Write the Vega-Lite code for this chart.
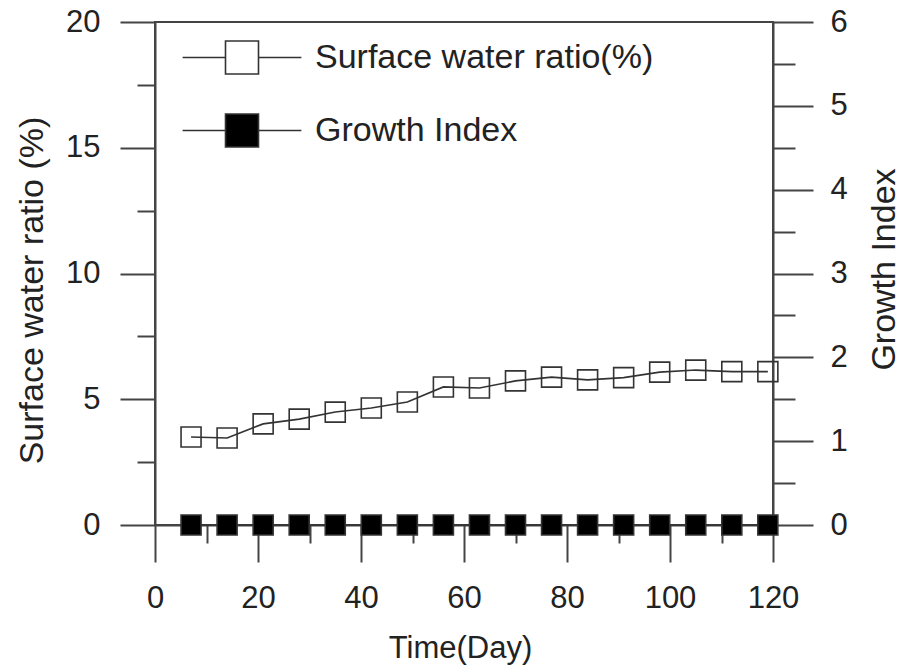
{
  "$schema": "https://vega.github.io/schema/vega-lite/v6.json",
  "width": 618,
  "height": 503,
  "autosize": {"type": "none"},
  "padding": {"left": 155, "top": 22, "right": 127, "bottom": 141},
  "background": "white",
  "config": {
    "view": {"stroke": "#444", "strokeWidth": 2},
    "font": "Liberation Sans",
    "axis": {
      "labelFont": "Liberation Sans", "labelFontSize": 31, "labelColor": "#222", "labelFlush": false,
      "titleFont": "Liberation Sans", "titleFontSize": 33, "titleFontWeight": "normal", "titleColor": "#222",
      "domainColor": "#444", "domainWidth": 2, "tickColor": "#444", "tickWidth": 2, "grid": false
    }
  },
  "data": {
    "values": [
      {"day": 7, "surface": 3.50, "growth": 0},
      {"day": 14, "surface": 3.46, "growth": 0},
      {"day": 21, "surface": 4.02, "growth": 0},
      {"day": 28, "surface": 4.21, "growth": 0},
      {"day": 35, "surface": 4.49, "growth": 0},
      {"day": 42, "surface": 4.65, "growth": 0},
      {"day": 49, "surface": 4.89, "growth": 0},
      {"day": 56, "surface": 5.49, "growth": 0},
      {"day": 63, "surface": 5.45, "growth": 0},
      {"day": 70, "surface": 5.73, "growth": 0},
      {"day": 77, "surface": 5.88, "growth": 0},
      {"day": 84, "surface": 5.77, "growth": 0},
      {"day": 91, "surface": 5.86, "growth": 0},
      {"day": 98, "surface": 6.08, "growth": 0},
      {"day": 105, "surface": 6.16, "growth": 0},
      {"day": 112, "surface": 6.10, "growth": 0},
      {"day": 119, "surface": 6.10, "growth": 0}
    ]
  },
  "resolve": {"scale": {"y": "independent"}, "axis": {"x": "independent", "y": "independent"}},
  "layer": [
    {
      "mark": {"type": "line", "color": "#333", "strokeWidth": 1.6},
      "encoding": {
        "x": {
          "field": "day", "type": "quantitative",
          "scale": {"domain": [0, 120], "nice": false},
          "axis": {
            "orient": "bottom", "values": [0, 20, 40, 60, 80, 100, 120], "tickSize": 37, "labelPadding": 21,
            "title": "Time(Day)", "titleFontSize": 31, "titleX": 305, "titleY": 132, "titleBaseline": "alphabetic", "titleAlign": "center"
          }
        },
        "y": {
          "field": "surface", "type": "quantitative",
          "scale": {"domain": [0, 20], "nice": false},
          "axis": {
            "orient": "left", "values": [0, 5, 10, 15, 20], "tickSize": 35, "labelPadding": 20,
            "title": "Surface water ratio (%)", "titleFontSize": 34, "titleX": -113, "titleY": 268, "titleAngle": 270,
            "titleBaseline": "alphabetic", "titleAlign": "center"
          }
        }
      }
    },
    {
      "mark": {"type": "point", "shape": "square", "filled": true, "size": 400, "stroke": "#333", "strokeWidth": 1.6, "opacity": 1},
      "encoding": {
        "x": {"field": "day", "type": "quantitative", "axis": null},
        "y": {"field": "surface", "type": "quantitative", "scale": {"domain": [0, 20], "nice": false}, "axis": null},
        "fill": {
          "datum": "Surface water ratio(%)", "type": "nominal",
          "scale": {"domain": ["Surface water ratio(%)", "Growth Index"], "range": ["transparent", "black"]},
          "legend": {
            "orient": "none", "legendX": 69.5, "legendY": 18, "title": null, "padding": 0,
            "symbolSize": 1089, "labelOffset": 55.5, "labelFontSize": 34, "labelFont": "Liberation Sans",
            "labelColor": "#222", "labelLimit": 0, "rowPadding": 32,
            "symbolStrokeWidth": 1.6, "symbolStrokeColor": "#333",
            "symbolType": "M-3.6,0H-1M1,0H3.6M-1,-1H1V1H-1Z",
            "encode": {
              "symbols": {
                "update": {
                  "shape": {"value": "M-3.6,0H-1M1,0H3.6M-1,-1H1V1H-1Z"},
                  "size": {"value": 1089},
                  "stroke": {"value": "#333"},
                  "strokeWidth": {"value": 1.6},
                  "opacity": {"value": 1}
                }
              }
            }
          }
        }
      }
    },
    {
      "mark": {"type": "line", "color": "#333", "strokeWidth": 1.6},
      "encoding": {
        "x": {"field": "day", "type": "quantitative", "axis": null},
        "y": {
          "field": "growth", "type": "quantitative",
          "scale": {"domain": [0, 6], "nice": false},
          "axis": {
            "orient": "right", "values": [0, 1, 2, 3, 4, 5, 6], "tickSize": 40, "labelPadding": 17,
            "title": "Growth Index", "titleFontSize": 34, "titleX": 121, "titleY": 247, "titleAngle": 270,
            "titleBaseline": "alphabetic", "titleAlign": "center"
          }
        }
      }
    },
    {
      "mark": {"type": "point", "shape": "square", "filled": true, "size": 400, "stroke": "#333", "strokeWidth": 1.6, "opacity": 1},
      "encoding": {
        "x": {"field": "day", "type": "quantitative", "axis": null},
        "y": {"field": "growth", "type": "quantitative", "scale": {"domain": [0, 6], "nice": false}, "axis": null},
        "fill": {"datum": "Growth Index", "type": "nominal"}
      }
    },
    {
      "mark": {"type": "point", "opacity": 0},
      "encoding": {
        "x": {
          "field": "day", "type": "quantitative",
          "axis": {"orient": "bottom", "values": [10, 30, 50, 70, 90, 110], "tickSize": 18, "labels": false, "domain": false, "title": null}
        },
        "y": {
          "field": "surface", "type": "quantitative", "scale": {"domain": [0, 20], "nice": false},
          "axis": {"orient": "left", "values": [2.5, 7.5, 12.5, 17.5], "tickSize": 18, "labels": false, "domain": false, "title": null}
        }
      }
    },
    {
      "mark": {"type": "point", "opacity": 0},
      "encoding": {
        "x": {"field": "day", "type": "quantitative", "axis": null},
        "y": {
          "field": "growth", "type": "quantitative", "scale": {"domain": [0, 6], "nice": false},
          "axis": {"orient": "right", "values": [0.5, 1.5, 2.5, 3.5, 4.5, 5.5], "tickSize": 22, "labels": false, "domain": false, "title": null}
        }
      }
    }
  ]
}
